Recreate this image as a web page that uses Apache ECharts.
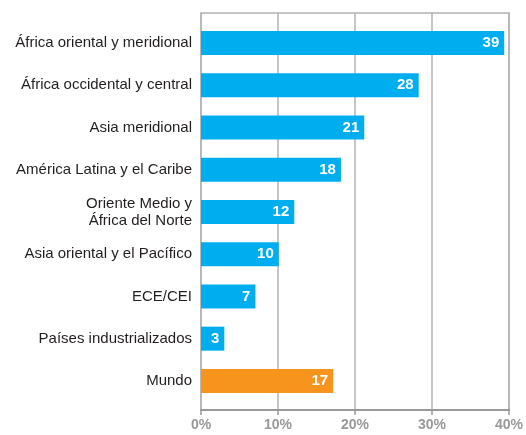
<!DOCTYPE html>
<html>
<head>
<meta charset="utf-8">
<script src="https://cdn.jsdelivr.net/npm/echarts@6/dist/echarts.min.js"></script>
<style>
  html, body { margin: 0; padding: 0; background: #fff; }
  #chart { width: 526px; height: 435px; }
</style>
</head>
<body>
<div id="chart"></div>
<script>
var categories = [
    'África oriental y meridional',
    'África occidental y central',
    'Asia meridional',
    'América Latina y el Caribe',
    'Oriente Medio y\nÁfrica del Norte',
    'Asia oriental y el Pacífico',
    'ECE/CEI',
    'Países industrializados',
    'Mundo'
];
var values = [39, 28, 21, 18, 12, 10, 7, 3, 17];
var tickLabels = ['0%', '10%', '20%', '30%', '40%'];

var font = 'Liberation Sans, Arial, sans-serif';
var myChart = echarts.init(document.getElementById('chart'));

var data = values.map(function (v, i) {
    return {
        value: v,
        itemStyle: { color: categories[i] === 'Mundo' ? '#F7941D' : '#00AEEF' }
    };
});

var option = {
    animation: false,
    grid: [
        // frame + x axis
        { left: 201, right: 14, top: 13, bottom: 25, show: true, borderColor: '#b3b3b3', borderWidth: 1.5 },
        // bars
        { left: 201, right: 14, top: 22, bottom: 33 }
    ],
    xAxis: [{
        gridIndex: 0,
        type: 'value',
        min: 0, max: 40, interval: 10,
        axisLine: { show: true, lineStyle: { color: '#999', width: 2 } },
        axisTick: { show: true, length: 5, lineStyle: { color: '#999', width: 1.5 } },
        axisLabel: {
            color: '#999', fontWeight: 'bold', fontSize: 14, fontFamily: font, margin: 8,
            formatter: function (v) { return tickLabels[v / 10]; }
        },
        splitLine: { show: true, lineStyle: { color: '#b3b3b3', width: 1.5 } }
    }, {
        gridIndex: 1,
        type: 'value',
        min: 0, max: 40,
        show: false
    }],
    yAxis: [{
        gridIndex: 0,
        type: 'value',
        show: false
    }, {
        gridIndex: 1,
        type: 'category',
        inverse: true,
        data: categories,
        axisLine: { show: false },
        axisTick: { show: false },
        axisLabel: {
            color: '#231f20', fontSize: 15, fontFamily: font, margin: 9, lineHeight: 17
        }
    }],
    series: [{
        type: 'bar',
        xAxisIndex: 1,
        yAxisIndex: 1,
        barWidth: 24,
        data: data,
        label: {
            show: true,
            position: 'insideRight',
            color: '#fff',
            fontWeight: 'bold',
            fontSize: 15,
            fontFamily: font,
            distance: 5
        }
    }]
};

myChart.setOption(option);
</script>
</body>
</html>
